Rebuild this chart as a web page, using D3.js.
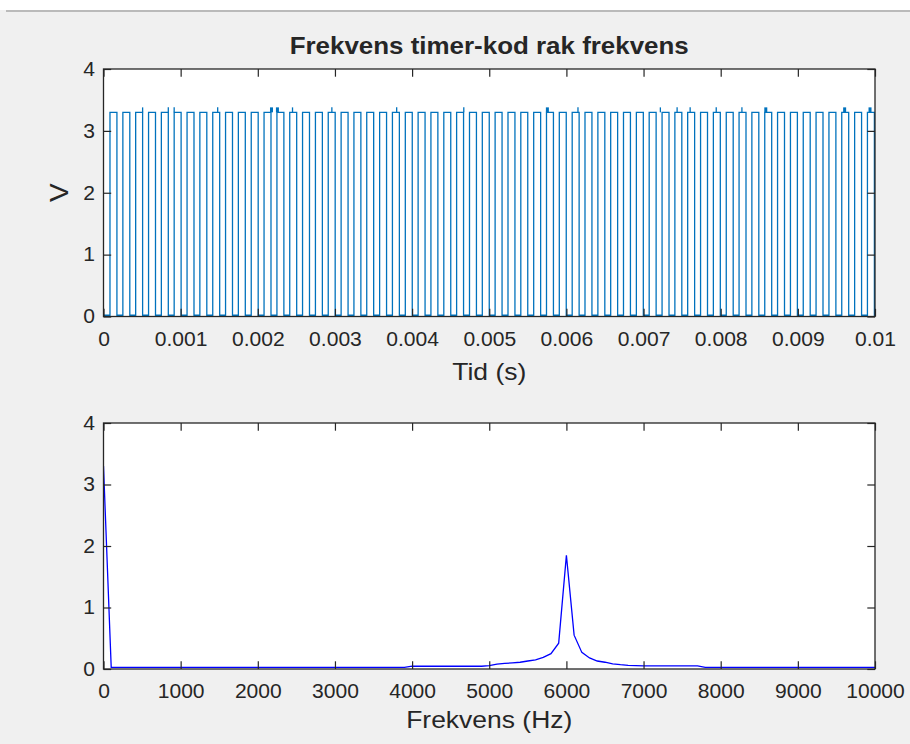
<!DOCTYPE html>
<html>
<head>
<meta charset="utf-8">
<script src="https://cdn.jsdelivr.net/npm/d3@7"></script>
<style>
  html, body { margin: 0; padding: 0; background: #f0f0f0; }
  svg { display: block; }
  text { font-family: "Liberation Sans", Arial, Helvetica, sans-serif; fill: #262626; }
</style>
</head>
<body>
<svg id="fig" width="910" height="744"></svg>
<script>
// Top plot: square wave, edges in microseconds
const riseUs = [84, 251, 417, 584, 750, 916, 1083, 1249, 1416, 1582, 1748, 1915, 2081, 2248, 2414,
  2580, 2747, 2913, 3080, 3246, 3412, 3579, 3745, 3912, 4078, 4244, 4411, 4577, 4744, 4910,
  5076, 5243, 5409, 5576, 5742, 5908, 6075, 6241, 6408, 6574, 6740, 6907, 7073, 7240, 7406,
  7572, 7739, 7905, 8072, 8238, 8404, 8571, 8737, 8904, 9070, 9236, 9403, 9569, 9736, 9902];
const fallUs = [174, 341, 507, 674, 840, 1006, 1173, 1339, 1506, 1672, 1838, 2005, 2171, 2338, 2504,
  2670, 2837, 3003, 3170, 3336, 3502, 3669, 3835, 4002, 4168, 4334, 4501, 4667, 4834, 5000,
  5166, 5333, 5499, 5666, 5832, 5998, 6165, 6331, 6498, 6664, 6830, 6997, 7163, 7330, 7496,
  7662, 7829, 7995, 8162, 8328, 8494, 8661, 8827, 8994, 9160, 9326, 9493, 9659, 9826, 9992];
const highV = 3.3;
const lowV = 0.02;
const spikeUs = [507, 840, 916, 1480, 2450, 2960, 3800, 4670, 6150, 7218, 7435, 7604, 7942, 8275];
const blobUs = [2171, 2248, 5747, 8578, 9600, 9929];
const spikeV = 3.38;

// Bottom plot: spectrum vertices
const specFreq = [0, 100, 3900, 4000, 4900, 5000, 5100, 5200, 5300, 5400, 5500, 5600, 5700, 5800, 5900,
  6000, 6100, 6200, 6300, 6400, 6500, 6600, 6700, 6800, 6900, 7000, 7700, 7800, 10000];
const specAmp = [3.3, 0.025, 0.025, 0.045, 0.045, 0.055, 0.08, 0.09, 0.1, 0.11, 0.13, 0.15, 0.19, 0.25, 0.42,
  1.85, 0.55, 0.27, 0.18, 0.13, 0.11, 0.085, 0.07, 0.06, 0.055, 0.05, 0.05, 0.025, 0.025];

const timeTicks = [0, 0.001, 0.002, 0.003, 0.004, 0.005, 0.006, 0.007, 0.008, 0.009, 0.01];
const freqTicks = [0, 1000, 2000, 3000, 4000, 5000, 6000, 7000, 8000, 9000, 10000];
const yTicks = [0, 1, 2, 3, 4];

const svg = d3.select('#fig');
const axisColor = '#262626';
const tickLen = 7.7;
const left = 103.5, right = 875;

// window edge at the top
svg.append('rect').attr('x', 0).attr('y', 0).attr('width', 910).attr('height', 10).attr('fill', '#ffffff');
svg.append('line').attr('x1', 6).attr('x2', 910).attr('y1', 11).attr('y2', 11)
  .attr('stroke', '#a8a8a8').attr('stroke-width', 1.5);

function drawAxes(top, bottom, xDomain, xTickVals, xFmt, id) {
  const x = d3.scaleLinear().domain(xDomain).range([left, right]);
  const y = d3.scaleLinear().domain([0, 4]).range([bottom, top]);

  svg.append('rect')
    .attr('x', left).attr('y', top)
    .attr('width', right - left).attr('height', bottom - top)
    .attr('fill', '#ffffff');

  svg.append('clipPath').attr('id', id)
    .append('rect')
    .attr('x', left).attr('y', top)
    .attr('width', right - left).attr('height', bottom - top);

  const g = svg.append('g');
  return { x, y, g };
}

function finishAxes(ax, top, bottom, xTickVals, xFmt) {
  const { x, y } = ax;
  const style = sel => {
    sel.select('.domain').remove();
    sel.selectAll('line').attr('stroke', axisColor).attr('stroke-width', 1.2);
    sel.selectAll('text').attr('fill', axisColor).attr('font-size', '19.5px');
  };
  svg.append('g').attr('transform', `translate(0,${bottom})`)
    .call(d3.axisBottom(x).tickValues(xTickVals).tickFormat(xFmt).tickSize(-tickLen).tickPadding(15.5))
    .call(style);
  svg.append('g').attr('transform', `translate(0,${top})`)
    .call(d3.axisTop(x).tickValues(xTickVals).tickFormat('').tickSize(-tickLen))
    .call(style);
  svg.append('g').attr('transform', `translate(${left},0)`)
    .call(d3.axisLeft(y).tickValues(yTicks).tickFormat(d3.format('d')).tickSize(-tickLen).tickPadding(8.5))
    .call(style);
  svg.append('g').attr('transform', `translate(${right},0)`)
    .call(d3.axisRight(y).tickValues(yTicks).tickFormat('').tickSize(-tickLen))
    .call(style);

  svg.append('rect')
    .attr('x', left).attr('y', top)
    .attr('width', right - left).attr('height', bottom - top)
    .attr('fill', 'none')
    .attr('stroke', axisColor)
    .attr('stroke-width', 1.3);
}

// ---- Top subplot
const topAx = drawAxes(69, 316.5, [0, 0.01], timeTicks, null, 'clipTop');
const wave = [[0, lowV]];
riseUs.forEach((r, i) => {
  wave.push([r * 1e-6, lowV], [r * 1e-6, highV], [fallUs[i] * 1e-6, highV], [fallUs[i] * 1e-6, lowV]);
});
wave.push([0.01, lowV]);

const waveLine = d3.line().x(d => topAx.x(d[0])).y(d => topAx.y(d[1]));
topAx.g.append('path')
  .datum(wave)
  .attr('clip-path', 'url(#clipTop)')
  .attr('fill', 'none')
  .attr('stroke', '#0072BD')
  .attr('stroke-width', 1.3)
  .attr('d', waveLine);

topAx.g.selectAll('line.spike')
  .data(spikeUs)
  .join('line')
  .attr('class', 'spike')
  .attr('x1', d => topAx.x(d * 1e-6)).attr('x2', d => topAx.x(d * 1e-6))
  .attr('y1', topAx.y(highV)).attr('y2', topAx.y(spikeV))
  .attr('stroke', '#0072BD').attr('stroke-width', 1.3);

topAx.g.selectAll('rect.blob')
  .data(blobUs)
  .join('rect')
  .attr('class', 'blob')
  .attr('x', d => topAx.x(d * 1e-6) - 1)
  .attr('y', topAx.y(spikeV))
  .attr('width', 3)
  .attr('height', topAx.y(highV) - topAx.y(spikeV))
  .attr('fill', '#0072BD');

finishAxes(topAx, 69, 316.5, timeTicks, d => (d === 0 ? '0' : String(+d.toFixed(3))));

// ---- Bottom subplot
const botAx = drawAxes(423, 669, [0, 10000], freqTicks, null, 'clipBot');
const spec = specFreq.map((f, i) => [f, specAmp[i]]);
botAx.g.append('path')
  .datum(spec)
  .attr('clip-path', 'url(#clipBot)')
  .attr('fill', 'none')
  .attr('stroke', '#0000ff')
  .attr('stroke-width', 1.3)
  .attr('d', d3.line().x(d => botAx.x(d[0])).y(d => botAx.y(d[1])));

finishAxes(botAx, 423, 669, freqTicks, d3.format('d'));

// ---- Titles and labels
svg.append('text')
  .attr('x', (left + right) / 2).attr('y', 53.5)
  .attr('text-anchor', 'middle')
  .attr('font-weight', 'bold')
  .attr('font-size', '24px')
  .attr('fill', '#000000')
  .text('Frekvens timer-kod rak frekvens');

svg.append('text')
  .attr('x', (left + right) / 2).attr('y', 380)
  .attr('text-anchor', 'middle')
  .attr('font-size', '24.5px')
  .text('Tid (s)');

svg.append('text')
  .attr('x', (left + right) / 2).attr('y', 728)
  .attr('text-anchor', 'middle')
  .attr('font-size', '24.5px')
  .text('Frekvens (Hz)');

svg.append('text')
  .attr('transform', `translate(68,${(69 + 316.5) / 2}) rotate(-90)`)
  .attr('text-anchor', 'middle')
  .attr('font-size', '26px')
  .text('V');

// MATLAB text in the reference is slightly wider than Arial metrics
svg.selectAll('text').each(function () {
  const t = d3.select(this);
  if (!t.text()) return;
  const L = this.getComputedTextLength();
  t.attr('textLength', L * 1.08).attr('lengthAdjust', 'spacingAndGlyphs');
});
</script>
</body>
</html>
